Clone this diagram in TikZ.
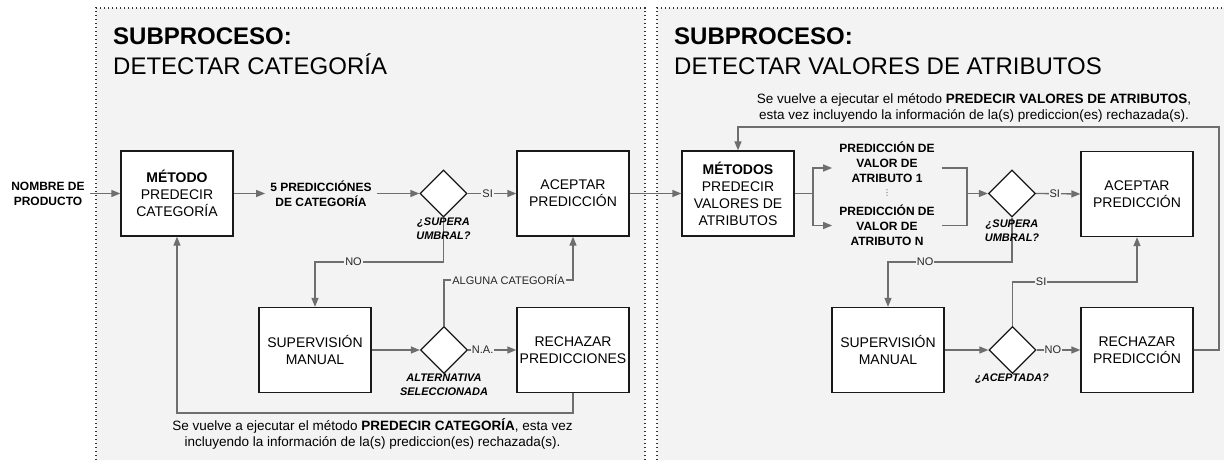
\documentclass[tikz,border=0pt]{standalone}
\usepackage{fontspec}
\setmainfont{Liberation Sans}
\newfontfamily\symfont{DejaVu Sans}
\usetikzlibrary{arrows.meta,shapes.geometric}

\definecolor{panelgray}{HTML}{F3F3F3}
\definecolor{linegray}{HTML}{6E6E6E}
\definecolor{bordergray}{HTML}{333333}

\tikzset{
  procbox/.style={draw=black!90, line width=1.3pt, fill=white, minimum width=112pt,
    minimum height=85pt, align=center, inner sep=2pt, font=\fontsize{14}{17}\selectfont},
  decision/.style={diamond, draw=black!90, line width=1.3pt, fill=white, aspect=1,
    minimum width=47pt, minimum height=47pt, inner sep=0pt},
  flowlabel/.style={align=center, font=\bfseries\fontsize{12}{15}\selectfont, inner sep=5pt},
  qlabel/.style={align=center, font=\bfseries\itshape\fontsize{11}{13.5}\selectfont, inner sep=0pt},
  conn/.style={draw=linegray, line width=1.3pt},
  arrowconn/.style={conn, -{Triangle[length=9pt,width=7pt]}},
  edgetag/.style={fill=panelgray, inner sep=1pt, font=\fontsize{11}{13}\selectfont, text=black!85},
  note/.style={align=center, font=\fontsize{13.5}{15.5}\selectfont},
  paneltitle/.style={anchor=north west, align=left, inner sep=0pt, font=\fontsize{24}{29.7}\selectfont},
  paneledge/.style={draw=bordergray, line width=1.2pt, dash pattern=on 1.4pt off 2.6pt},
}

\begin{document}
\begin{tikzpicture}[x=1pt, y=-1pt]
\useasboundingbox (0,0) rectangle (1224,460);

% panels
\fill[panelgray] (96,8) rectangle (645,460);
\fill[panelgray] (657,8) rectangle (1224,460);
\draw[paneledge] (96,460) -- (96,8) -- (645,8) -- (645,460);
\draw[paneledge] (657,460) -- (657,8) -- (1224,8);

% titles
\node[paneltitle] (titleL) at (113,27.6) {\textbf{SUBPROCESO:}\\DETECTAR CATEGORÍA};
\node[paneltitle] (titleR) at (674,27.6) {\textbf{SUBPROCESO:}\\DETECTAR VALORES DE ATRIBUTOS};

% ---- subprocess: category ----
\node[flowlabel] (nombre) at (48,193.5) {NOMBRE DE\\PRODUCTO};
\node[procbox] (metodo) at (177,193.5) {\textbf{MÉTODO}\\PREDECIR\\CATEGORÍA};
\node[flowlabel] (pred5) at (321,193.5) {5 PREDICCIÓNES\\DE CATEGORÍA};
\node[decision] (d1) at (443.5,193.5) {};
\node[procbox] (aceptarL) at (573,193.5) {ACEPTAR\\PREDICCIÓN};
\node[procbox] (supL) at (315,350) {SUPERVISIÓN\\MANUAL};
\node[decision] (d2) at (444,350) {};
\node[procbox] (rechL) at (573,350) {RECHAZAR\\PREDICCIONES};

% ---- subprocess: attribute values ----
\node[procbox] (metodos) at (738,193.5) {\textbf{MÉTODOS}\\PREDECIR\\VALORES DE\\ATRIBUTOS};
\node[flowlabel, inner sep=7pt] (pred1) at (887,162) {PREDICCIÓN DE\\VALOR DE\\ATRIBUTO 1};
\node[inner sep=0pt, font=\symfont\fontsize{8}{8}\selectfont, text=black!70] (vdots) at (887,193) {⋮};
\node[flowlabel, inner sep=7pt] (predN) at (887,225.5) {PREDICCIÓN DE\\VALOR DE\\ATRIBUTO N};
\node[decision] (d3) at (1012,193.5) {};
\node[procbox] (aceptarR) at (1137,194) {ACEPTAR\\PREDICCIÓN};
\node[procbox] (supR) at (888,350) {SUPERVISIÓN\\MANUAL};
\node[decision] (d4) at (1012.5,350) {};
\node[procbox] (rechR) at (1137,350) {RECHAZAR\\PREDICCIÓN};

% routing levels and corners
\coordinate (lvlNoL) at (0,262);
\coordinate (lvlAlg) at (0,280);
\coordinate (loopL) at (177,413);
\coordinate (fork) at (813,193.5);
\coordinate (join) at (967,193.5);
\coordinate (lvlNoR) at (0,262);
\coordinate (lvlSiR) at (0,282);
\coordinate (loopR) at (1219,127);

% connectors: category
\draw[arrowconn] (nombre.east) -- (nombre.east -| metodo.west);
\draw[arrowconn] (metodo.east) -- (pred5.west);
\draw[arrowconn] (pred5.east) -- (d1.west);
\draw[arrowconn] (d1.east) -- node[edgetag, pos=0.41] {SI} (aceptarL.west);
\draw[arrowconn] (d1.south) -- (d1.south |- lvlNoL)
  -- node[edgetag, pos=0.70] {NO} (supL.north |- lvlNoL) -- (supL.north);
\draw[arrowconn] (supL.east) -- (d2.west);
\draw[arrowconn] (d2.east) -- node[edgetag, pos=0.3] {N.A.} (rechL.west);
\draw[arrowconn] (d2.north) -- (d2.north |- lvlAlg)
  -- node[edgetag, pos=0.5] {ALGUNA CATEGORÍA} (aceptarL.south |- lvlAlg) -- (aceptarL.south);
\draw[arrowconn] (rechL.south) |- (loopL) -- (metodo.south);
\draw[arrowconn] (aceptarL.east) -- (metodos.west);

% connectors: attribute values
\draw[conn] (metodos.east) -- (fork);
\draw[arrowconn] (fork) |- ([yshift=-6pt]pred1.west);
\draw[arrowconn] (fork) |- (predN.west);
\draw[conn] ([yshift=-6pt]pred1.east) -| (join) |- (predN.east);
\draw[arrowconn] (join) -- (d3.west);
\draw[arrowconn] (d3.east) -- node[edgetag, pos=0.42] {SI} (aceptarR.west);
\draw[arrowconn] (d3.south) -- (d3.south |- lvlNoR)
  -- node[edgetag, pos=0.70] {NO} (supR.north |- lvlNoR) -- (supR.north);
\draw[arrowconn] (supR.east) -- (d4.west);
\draw[arrowconn] (d4.east) -- node[edgetag, pos=0.37] {NO} (rechR.west);
\draw[arrowconn] (d4.north) -- (d4.north |- lvlSiR)
  -- node[edgetag, pos=0.23] {SI} (aceptarR.south |- lvlSiR) -- (aceptarR.south);
\draw[arrowconn] (rechR.east) -| (loopR) -| (metodos.north);

% decision captions
\node[qlabel] (q1) at (443.5,228.5) {¿SUPERA\\UMBRAL?};
\node[qlabel] (q2) at (444,385) {ALTERNATIVA\\SELECCIONADA};
\node[qlabel] (q3) at (1012,230.5) {¿SUPERA\\UMBRAL?};
\node[qlabel] (q4) at (1012,379) {¿ACEPTADA?};

% notes on the repeat loops
\node[note] (noteL) at (372.5,434) {Se vuelve a ejecutar el método \textbf{PREDECIR CATEGORÍA}, esta vez\\incluyendo la información de la(s) prediccion(es) rechazada(s).};
\node[note] (noteR) at (974,108) {Se vuelve a ejecutar el método \textbf{PREDECIR VALORES DE ATRIBUTOS},\\esta vez incluyendo la información de la(s) prediccion(es) rechazada(s).};
\end{tikzpicture}
\end{document}
